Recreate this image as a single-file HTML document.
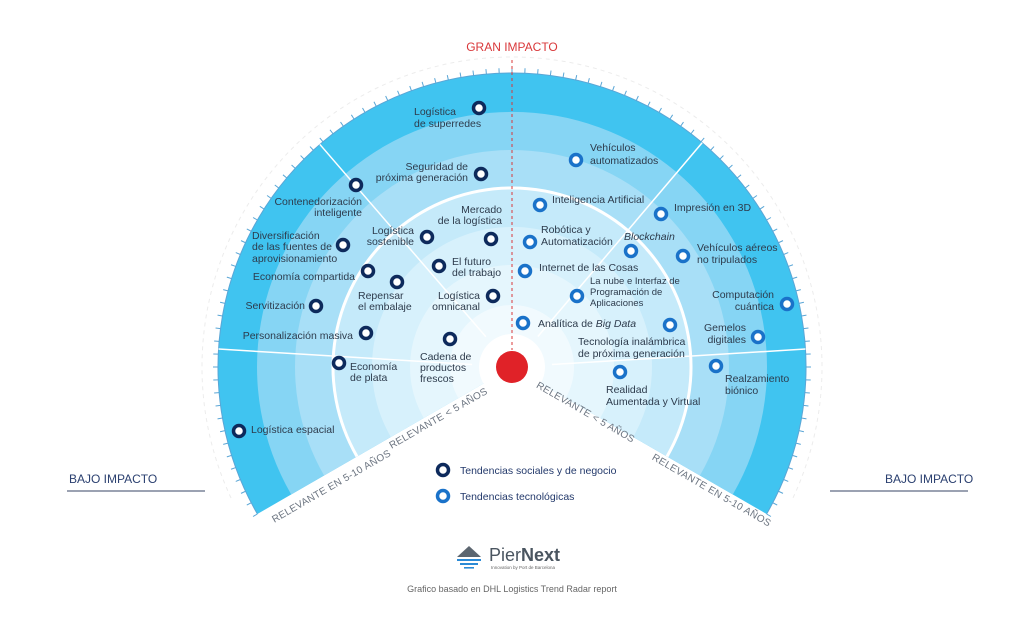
<!DOCTYPE html>
<html><head><meta charset="utf-8"><style>
html,body{margin:0;padding:0;background:#fff;}
svg{display:block;font-family:"Liberation Sans",sans-serif;}
.l{font-size:10.5px;fill:#2d3b4c;}
.s{font-size:9.5px;fill:#2d3b4c;}
.r{font-size:10px;fill:#6b7480;letter-spacing:0.3px;}
</style></head><body>
<svg id="s" width="1024" height="623" viewBox="0 0 1024 623" xmlns="http://www.w3.org/2000/svg">
<rect width="1024" height="623" fill="#fff"/>
<path d="M512,367 L257.4,514 A294,294 0 1 1 766.6,514 Z" fill="#40c4f0"/>
<path d="M512,367 L291.2,494.5 A255,255 0 1 1 732.8,494.5 Z" fill="#86d5f4"/>
<path d="M512,367 L324.1,475.5 A217,217 0 1 1 699.9,475.5 Z" fill="#a8dff7"/>
<path d="M512,367 L357,456.5 A179,179 0 1 1 667,456.5 Z" fill="#c5eafa"/>
<path d="M512,367 L390.8,437 A140,140 0 1 1 633.2,437 Z" fill="#d7f1fc"/>
<path d="M512,367 L423.7,418 A102,102 0 1 1 600.3,418 Z" fill="#e5f6fd"/>
<path d="M512,367 L458.3,398 A62,62 0 1 1 565.7,398 Z" fill="#f1fafe"/>
<path d="M357,456.5 A179,179 0 1 1 667,456.5" fill="none" stroke="#fff" stroke-width="3"/>
<g id="ticks" stroke="#5aa6d6" stroke-width="1"></g>
<g id="lines" stroke="#fff" stroke-width="1.5"></g>
<path id="dash" fill="none" stroke="#ececec" stroke-width="1" stroke-dasharray="4 4"/>
<circle cx="512" cy="367" r="33" fill="#fff"/>
<line x1="512" y1="60" x2="512" y2="350" stroke="#d9383a" stroke-width="1" stroke-dasharray="3 3"/>
<circle cx="512" cy="367" r="16" fill="#e02228"/>
<text x="512" y="51" text-anchor="middle" font-size="12" fill="#d9383a">GRAN IMPACTO</text>
<text x="69" y="483" font-size="12" fill="#2b4070">BAJO IMPACTO</text>
<line x1="67" y1="491" x2="205" y2="491" stroke="#7a8499" stroke-width="1.5"/>
<text x="885" y="483" font-size="12" fill="#2b4070">BAJO IMPACTO</text>
<line x1="830" y1="491" x2="968" y2="491" stroke="#7a8499" stroke-width="1.5"/>
<text class="r" transform="translate(333,489) rotate(-30)" text-anchor="middle">RELEVANTE EN 5-10 AÑOS</text>
<text class="r" transform="translate(440,421) rotate(-30)" text-anchor="middle">RELEVANTE &lt; 5 AÑOS</text>
<text class="r" transform="translate(584,415) rotate(30)" text-anchor="middle">RELEVANTE &lt; 5 AÑOS</text>
<text class="r" transform="translate(710,493) rotate(30)" text-anchor="middle">RELEVANTE EN 5-10 AÑOS</text>
<g fill="#fff" stroke="#0d2a5c" stroke-width="3.5">
<circle cx="479" cy="108" r="5.5"/><circle cx="481" cy="174" r="5.5"/><circle cx="356" cy="185" r="5.5"/>
<circle cx="343" cy="245" r="5.5"/><circle cx="368" cy="271" r="5.5"/><circle cx="316" cy="306" r="5.5"/>
<circle cx="366" cy="333" r="5.5"/><circle cx="339" cy="363" r="5.5"/><circle cx="239" cy="431" r="5.5"/>
<circle cx="427" cy="237" r="5.5"/><circle cx="491" cy="239" r="5.5"/><circle cx="397" cy="282" r="5.5"/>
<circle cx="439" cy="266" r="5.5"/><circle cx="493" cy="296" r="5.5"/><circle cx="450" cy="339" r="5.5"/>
<circle cx="443" cy="470" r="5.5"/>
</g>
<g fill="#fff" stroke="#1a72c9" stroke-width="3.5">
<circle cx="576" cy="160" r="5.5"/><circle cx="540" cy="205" r="5.5"/><circle cx="530" cy="242" r="5.5"/>
<circle cx="525" cy="271" r="5.5"/><circle cx="523" cy="323" r="5.5"/><circle cx="661" cy="214" r="5.5"/>
<circle cx="631" cy="251" r="5.5"/><circle cx="683" cy="256" r="5.5"/><circle cx="577" cy="296" r="5.5"/>
<circle cx="787" cy="304" r="5.5"/><circle cx="670" cy="325" r="5.5"/><circle cx="758" cy="337" r="5.5"/>
<circle cx="716" cy="366" r="5.5"/><circle cx="620" cy="372" r="5.5"/><circle cx="443" cy="496" r="5.5"/>
</g>
<g class="l">
<text x="414" y="115">Logística</text><text x="414" y="127">de superredes</text>
<text x="468" y="170" text-anchor="end">Seguridad de</text><text x="468" y="181" text-anchor="end">próxima generación</text>
<text x="362" y="205" text-anchor="end">Contenedorización</text><text x="362" y="216" text-anchor="end">inteligente</text>
<text x="252" y="239">Diversificación</text><text x="252" y="250">de las fuentes de</text><text x="252" y="262">aprovisionamiento</text>
<text x="355" y="280" text-anchor="end">Economía compartida</text>
<text x="305" y="309" text-anchor="end">Servitización</text>
<text x="353" y="339" text-anchor="end">Personalización masiva</text>
<text x="350" y="370">Economía</text><text x="350" y="381">de plata</text>
<text x="251" y="433">Logística espacial</text>
<text x="414" y="234" text-anchor="end">Logística</text><text x="414" y="245" text-anchor="end">sostenible</text>
<text x="502" y="213" text-anchor="end">Mercado</text><text x="502" y="224" text-anchor="end">de la logística</text>
<text x="358" y="299">Repensar</text><text x="358" y="310">el embalaje</text>
<text x="452" y="265">El futuro</text><text x="452" y="276">del trabajo</text>
<text x="480" y="299" text-anchor="end">Logística</text><text x="480" y="310" text-anchor="end">omnicanal</text>
<text x="420" y="360">Cadena de</text><text x="420" y="371">productos</text><text x="420" y="382">frescos</text>
<text x="590" y="151">Vehículos</text><text x="590" y="164">automatizados</text>
<text x="552" y="203">Inteligencia Artificial</text>
<text x="541" y="233">Robótica y</text><text x="541" y="245">Automatización</text>
<text x="539" y="271">Internet de las Cosas</text>
<text x="538" y="327">Analítica de <tspan font-style="italic">Big Data</tspan></text>
<text x="674" y="211">Impresión en 3D</text>
<text x="624" y="240" font-style="italic">Blockchain</text>
<text x="697" y="251">Vehículos aéreos</text><text x="697" y="263">no tripulados</text>
<text x="774" y="298" text-anchor="end">Computación</text><text x="774" y="310" text-anchor="end">cuántica</text>
<text x="578" y="345">Tecnología inalámbrica</text><text x="578" y="357">de próxima generación</text>
<text x="746" y="331" text-anchor="end">Gemelos</text><text x="746" y="343" text-anchor="end">digitales</text>
<text x="725" y="382">Realzamiento</text><text x="725" y="394">biónico</text>
<text x="606" y="393">Realidad</text><text x="606" y="405">Aumentada y Virtual</text>
</g>
<g class="s"><text x="590" y="284">La nube e Interfaz de</text><text x="590" y="295">Programación de</text><text x="590" y="306">Aplicaciones</text></g>
<text x="460" y="474" font-size="10.5" fill="#23396b">Tendencias sociales y de negocio</text>
<text x="460" y="500" font-size="10.5" fill="#23396b">Tendencias tecnológicas</text>
<path d="M457,557 L469,546 L481,557 Z" fill="#5c6670"/>
<rect x="457" y="559" width="24" height="2" fill="#2a8ad6"/>
<rect x="460" y="563" width="18" height="2" fill="#2a8ad6"/>
<rect x="464" y="567" width="10" height="1.6" fill="#2a8ad6"/>
<text x="489" y="561" font-size="18" fill="#4a5560">Pier<tspan font-weight="bold">Next</tspan></text>
<text x="491" y="569" font-size="4.5" fill="#666">Innovation by Port de Barcelona</text>
<text x="512" y="592" text-anchor="middle" font-size="9" fill="#666">Grafico basado en DHL Logistics Trend Radar report</text>
</svg>
<script>
var cx=512,cy=367,ns="http://www.w3.org/2000/svg";
var t=document.getElementById("ticks");
for(var a=-30;a<=210.01;a+=2.5){var r=a*Math.PI/180,c=Math.cos(r),s=Math.sin(r);
var l=document.createElementNS(ns,"line");l.setAttribute("x1",cx+294*c);l.setAttribute("y1",cy-294*s);
l.setAttribute("x2",cx+299*c);l.setAttribute("y2",cy-299*s);t.appendChild(l);}
var p=document.createElementNS(ns,"path");
p.setAttribute("d","M"+(cx+294*Math.cos(-30*Math.PI/180))+","+(cy+147)+" A294,294 0 1 0 "+(cx-254.6)+","+(cy+147));
p.setAttribute("fill","none");p.setAttribute("stroke","#5aa6d6");t.appendChild(p);
var g=document.getElementById("lines");
[176.5,130.8,49.7,3.5].forEach(function(a){var r=a*Math.PI/180,c=Math.cos(r),s=Math.sin(r);
var l=document.createElementNS(ns,"line");l.setAttribute("x1",cx+40*c);l.setAttribute("y1",cy-40*s);
l.setAttribute("x2",cx+294*c);l.setAttribute("y2",cy-294*s);g.appendChild(l);});
var R=310,a1=205*Math.PI/180,a2=-25*Math.PI/180;
document.getElementById("dash").setAttribute("d","M"+(cx+R*Math.cos(a1))+","+(cy-R*Math.sin(a1))+" A"+R+","+R+" 0 1 1 "+(cx+R*Math.cos(a2))+","+(cy-R*Math.sin(a2)));
</script>
</body></html>
